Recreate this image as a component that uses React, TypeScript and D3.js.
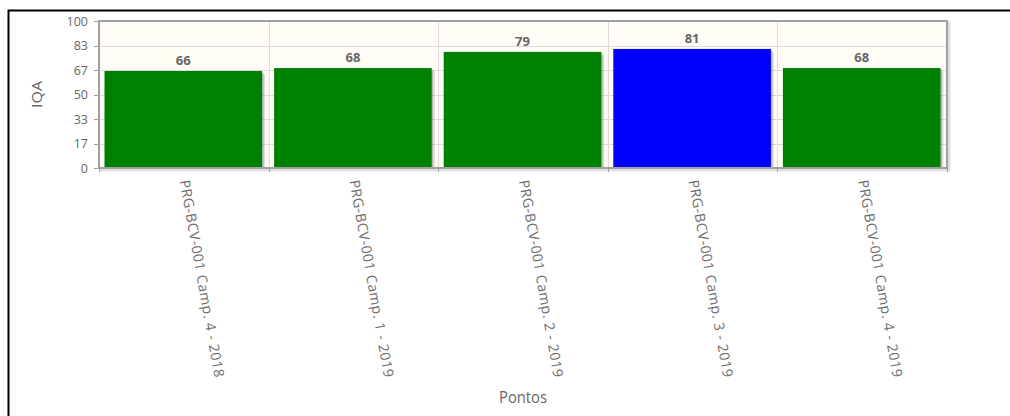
import React from "react";
import * as d3 from "d3";

// IQA per sampling campaign at point PRG-BCV-001
const categories: string[] = [
  "PRG-BCV-001 Camp. 4 - 2018",
  "PRG-BCV-001 Camp. 1 - 2019",
  "PRG-BCV-001 Camp. 2 - 2019",
  "PRG-BCV-001 Camp. 3 - 2019",
  "PRG-BCV-001 Camp. 4 - 2019",
];
const values: number[] = [66, 68, 79, 81, 68];
const barColors: string[] = ["#008000", "#008000", "#008000", "#0000ff", "#008000"];
const yTickValues: number[] = [0, 100 / 6, 200 / 6, 50, 400 / 6, 500 / 6, 100];

const W = 1010;
const H = 416;
const plot = { left: 99, right: 947, top: 21, bottom: 168 };

export default function App() {
  const x = d3
    .scaleBand<string>()
    .domain(categories)
    .range([plot.left, plot.right])
    .padding(0);
  const y = d3.scaleLinear().domain([0, 100]).range([plot.bottom, plot.top]);
  const bw = x.bandwidth();
  const inset = 5.5;
  const barW = bw - 12;
  const boundaries = d3.range(categories.length + 1).map((i) => plot.left + i * bw);
  const tickFont = "'Open Sans', 'Noto Sans', sans-serif";

  return (
    <svg
      width={W}
      height={H}
      style={{ position: "absolute", left: 0, top: 0, display: "block" }}
    >
      <defs>
        <clipPath id="plotClip">
          <rect x={plot.left} y={plot.top} width={plot.right - plot.left + 6} height={plot.bottom - plot.top} />
        </clipPath>
      </defs>
      <rect x={0} y={0} width={W} height={H} fill="#fff" />
      {/* outer frame */}
      <rect x={8.5} y={10.5} width={1200} height={600} fill="none" stroke="#000" strokeWidth={2} />

      {/* plot background and frame shadow */}
      <rect
        x={plot.left + 2}
        y={plot.top + 2}
        width={plot.right - plot.left}
        height={plot.bottom - plot.top}
        fill="none"
        stroke="rgba(0,0,0,0.12)"
        strokeWidth={3}
      />
      <rect
        x={plot.left}
        y={plot.top}
        width={plot.right - plot.left}
        height={plot.bottom - plot.top}
        fill="#fffdf6"
      />

      {/* horizontal grid lines */}
      {yTickValues.map((t, i) => (
        <line
          key={"hg" + i}
          x1={plot.left}
          x2={plot.right}
          y1={Math.round(y(t)) + 0.5}
          y2={Math.round(y(t)) + 0.5}
          stroke="#dcdcdc"
          strokeWidth={1}
        />
      ))}
      {/* vertical grid lines at category boundaries */}
      {boundaries.map((bx, i) => (
        <line
          key={"vg" + i}
          x1={Math.round(bx) + 0.5}
          x2={Math.round(bx) + 0.5}
          y1={plot.top}
          y2={plot.bottom}
          stroke="#dcdcdc"
          strokeWidth={1}
        />
      ))}

      {/* bars with drop shadows */}
      <g clipPath="url(#plotClip)">
        {values.map((v, i) => {
          const bx = (x(categories[i]) as number) + inset;
          return (
            <g key={"bar" + i}>
              <rect
                x={bx + 3}
                y={y(v) + 3}
                width={barW}
                height={plot.bottom - y(v)}
                fill="rgba(0,0,0,0.12)"
              />
              <rect
                x={bx + 1.5}
                y={y(v) + 1.5}
                width={barW}
                height={plot.bottom - y(v)}
                fill="rgba(0,0,0,0.18)"
              />
              <rect
                x={bx}
                y={y(v)}
                width={barW}
                height={plot.bottom - y(v)}
                fill={barColors[i]}
              />
            </g>
          );
        })}
      </g>

      {/* plot frame */}
      <rect
        x={plot.left}
        y={plot.top}
        width={plot.right - plot.left}
        height={plot.bottom - plot.top}
        fill="none"
        stroke="#a0a0a0"
        strokeWidth={2}
      />

      {/* value labels */}
      {values.map((v, i) => (
        <text
          key={"vl" + i}
          x={(x(categories[i]) as number) + inset + barW / 2}
          y={y(v) - 6}
          textAnchor="middle"
          fontFamily={tickFont}
          fontWeight="bold"
          fontSize={13}
          fill="#666"
        >
          {v}
        </text>
      ))}

      {/* y axis ticks and labels */}
      {yTickValues.map((t, i) => (
        <g key={"yt" + i}>
          <line
            x1={plot.left - 5}
            x2={plot.left}
            y1={Math.round(y(t)) + 0.5}
            y2={Math.round(y(t)) + 0.5}
            stroke="#a0a0a0"
          />
          <text
            x={88}
            y={y(t)}
            dy="0.36em"
            textAnchor="end"
            fontFamily={tickFont}
            fontSize={12.5}
            fill="#666"
          >
            {d3.format(".0f")(t)}
          </text>
        </g>
      ))}

      {/* x axis ticks and rotated labels */}
      {boundaries.map((bx, i) => (
        <line
          key={"xt" + i}
          x1={Math.round(bx) + 0.5}
          x2={Math.round(bx) + 0.5}
          y1={plot.bottom}
          y2={plot.bottom + 4}
          stroke="#a0a0a0"
        />
      ))}
      {categories.map((c, i) => {
        const cx = (x(c) as number) + bw / 2 - 4;
        const cy = 181;
        return (
          <text
            key={"xl" + i}
            transform={`translate(${cx},${cy}) rotate(80)`}
            fontFamily={tickFont}
            fontSize={14}
            textLength={200}
            fill="#6e6e6e"
          >
            {c}
          </text>
        );
      })}

      {/* axis titles */}
      <text
        transform={`translate(${42},${(plot.top + plot.bottom) / 2}) rotate(-90)`}
        textAnchor="middle"
        fontFamily={tickFont}
        fontSize={15}
        textLength={27}
        lengthAdjust="spacingAndGlyphs"
        fill="#666"
      >
        IQA
      </text>
      <text
        x={(plot.left + plot.right) / 2}
        y={403}
        textAnchor="middle"
        fontFamily={tickFont}
        fontSize={16}
        textLength={48}
        lengthAdjust="spacingAndGlyphs"
        fill="#666"
      >
        Pontos
      </text>
    </svg>
  );
}
